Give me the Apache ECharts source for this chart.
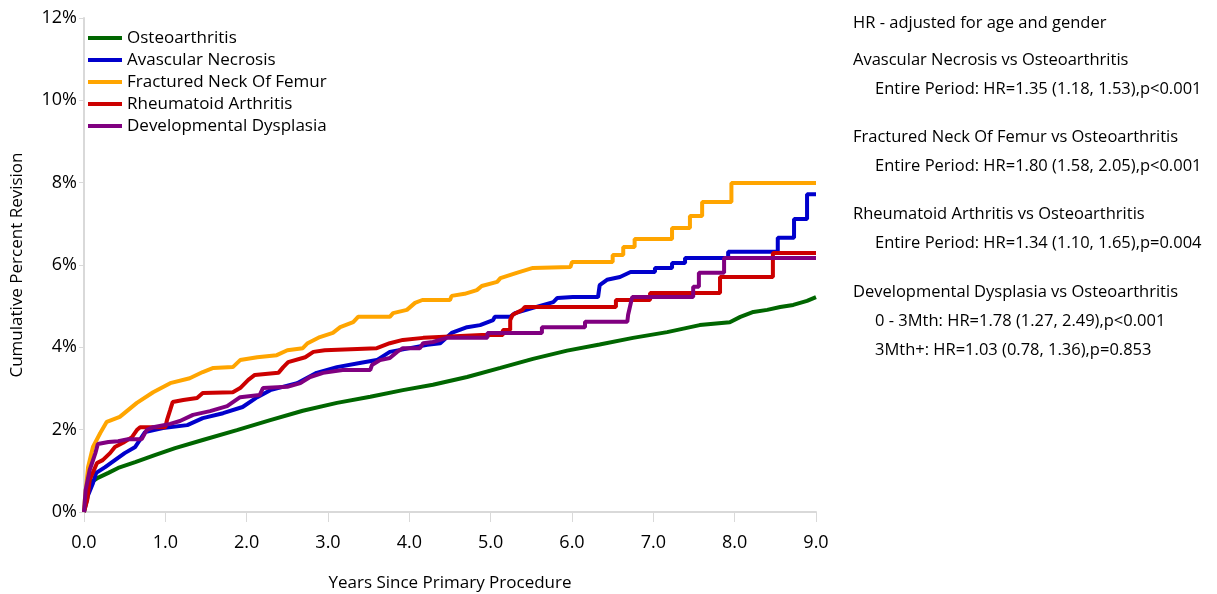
<!DOCTYPE html>
<html>
<head>
<meta charset="utf-8">
<script src="https://cdn.jsdelivr.net/npm/echarts@6/dist/echarts.min.js"></script>
<style>
  html, body { margin: 0; padding: 0; background: #fff; }
  #main { width: 1217px; height: 594px; }
</style>
</head>
<body>
<div id="main"></div>
<script>
// [years, cumulative percent revision]; repeated x marks a visible step
const osteoarthritis = [
  [0, 0], [0.02, 0.29], [0.05, 0.53], [0.07, 0.66], [0.11, 0.75], [0.17, 0.83], [0.30, 0.95],
  [0.42, 1.07], [0.63, 1.21], [0.87, 1.38], [1.12, 1.55], [1.46, 1.75], [1.88, 1.99], [2.29, 2.23],
  [2.69, 2.46], [3.11, 2.65], [3.52, 2.80], [3.92, 2.96], [4.29, 3.09], [4.71, 3.28], [5.12, 3.50],
  [5.52, 3.72], [5.94, 3.92], [6.34, 4.07], [6.75, 4.23], [7.17, 4.37], [7.57, 4.54], [7.94, 4.61],
  [8.07, 4.74], [8.23, 4.86], [8.40, 4.91], [8.56, 4.98], [8.72, 5.03], [8.89, 5.13], [9.0, 5.22]
];
const avascularNecrosis = [
  [0, 0], [0.05, 0.41], [0.11, 0.70], [0.15, 0.95], [0.26, 1.09], [0.38, 1.26], [0.50, 1.43],
  [0.63, 1.58], [0.75, 1.94], [0.97, 2.04], [1.27, 2.11], [1.46, 2.28], [1.71, 2.40], [1.95, 2.55],
  [2.13, 2.79], [2.29, 2.96], [2.62, 3.13], [2.86, 3.38], [3.11, 3.52], [3.39, 3.62], [3.60, 3.69],
  [3.76, 3.89], [4.22, 4.06], [4.38, 4.10], [4.52, 4.35], [4.71, 4.49], [4.87, 4.54], [5.03, 4.66],
  [5.05, 4.74], [5.24, 4.74], [5.30, 4.83], [5.52, 4.96], [5.77, 5.10], [5.82, 5.20], [6.01, 5.22],
  [6.32, 5.22], [6.34, 5.51], [6.43, 5.64], [6.59, 5.71], [6.72, 5.83], [7.02, 5.83], [7.02, 5.93],
  [7.23, 5.93], [7.23, 6.05], [7.39, 6.05], [7.39, 6.17], [7.92, 6.17], [7.92, 6.32], [8.53, 6.32],
  [8.53, 6.66], [8.73, 6.66], [8.73, 7.12], [8.89, 7.12], [8.89, 7.72], [9.0, 7.72]
];
const fracturedNeckOfFemur = [
  [0, 0], [0.01, 0.29], [0.05, 1.09], [0.11, 1.58], [0.20, 1.92], [0.28, 2.19], [0.44, 2.31],
  [0.65, 2.65], [0.85, 2.91], [1.06, 3.13], [1.30, 3.25], [1.46, 3.40], [1.59, 3.50], [1.83, 3.52],
  [1.92, 3.69], [2.13, 3.76], [2.37, 3.81], [2.50, 3.93], [2.69, 3.98], [2.75, 4.10], [2.90, 4.25],
  [3.06, 4.35], [3.15, 4.49], [3.31, 4.61], [3.37, 4.74], [3.76, 4.74], [3.80, 4.83], [3.97, 4.91],
  [4.07, 5.08], [4.16, 5.15], [4.50, 5.15], [4.52, 5.25], [4.68, 5.30], [4.83, 5.39], [4.89, 5.49],
  [5.08, 5.59], [5.12, 5.68], [5.32, 5.81], [5.52, 5.93], [5.98, 5.95], [6.00, 6.07], [6.50, 6.07],
  [6.50, 6.24], [6.63, 6.24], [6.63, 6.44], [6.77, 6.44], [6.77, 6.63], [7.23, 6.63], [7.23, 6.90],
  [7.45, 6.90], [7.45, 7.19], [7.60, 7.19], [7.60, 7.53], [7.96, 7.53], [7.96, 7.99], [9.0, 7.99]
];
const rheumatoidArthritis = [
  [0, 0], [0.04, 0.29], [0.07, 0.78], [0.16, 1.19], [0.23, 1.26], [0.32, 1.43], [0.38, 1.58],
  [0.48, 1.68], [0.59, 1.82], [0.65, 1.99], [0.69, 2.06], [1.00, 2.06], [1.02, 2.23], [1.06, 2.48],
  [1.09, 2.67], [1.22, 2.72], [1.39, 2.77], [1.46, 2.89], [1.83, 2.91], [1.92, 3.01], [2.02, 3.21],
  [2.10, 3.33], [2.39, 3.38], [2.45, 3.52], [2.51, 3.64], [2.72, 3.76], [2.82, 3.89], [2.96, 3.93],
  [3.60, 3.98], [3.76, 4.10], [3.92, 4.18], [4.17, 4.23], [4.89, 4.30], [5.15, 4.30], [5.15, 4.42],
  [5.24, 4.42], [5.24, 4.66], [5.27, 4.79], [5.39, 4.91], [5.42, 4.98], [6.54, 4.98], [6.54, 5.15],
  [6.96, 5.15], [6.96, 5.32], [7.82, 5.32], [7.82, 5.71], [8.47, 5.71], [8.47, 6.29], [9.0, 6.29]
];
const developmentalDysplasia = [
  [0, 0], [0.02, 0.53], [0.07, 1.02], [0.14, 1.43], [0.17, 1.65], [0.30, 1.70], [0.42, 1.72],
  [0.54, 1.77], [0.71, 1.77], [0.77, 1.99], [0.85, 2.06], [1.06, 2.14], [1.18, 2.21], [1.34, 2.36],
  [1.55, 2.45], [1.76, 2.57], [1.92, 2.79], [2.16, 2.84], [2.20, 3.01], [2.50, 3.04], [2.66, 3.13],
  [2.78, 3.28], [2.94, 3.38], [3.18, 3.45], [3.52, 3.45], [3.54, 3.57], [3.64, 3.69], [3.76, 3.74],
  [3.85, 3.89], [3.92, 3.98], [4.13, 3.98], [4.17, 4.10], [4.29, 4.13], [4.46, 4.23], [4.96, 4.23],
  [4.96, 4.35], [5.63, 4.35], [5.63, 4.49], [6.16, 4.49], [6.16, 4.62], [6.68, 4.62], [6.69, 4.79],
  [6.74, 5.22], [7.49, 5.22], [7.49, 5.47], [7.56, 5.47], [7.56, 5.81], [7.87, 5.81], [7.87, 6.17],
  [9.0, 6.17]
];

const seriesNames = ['Osteoarthritis', 'Avascular Necrosis', 'Fractured Neck Of Femur', 'Rheumatoid Arthritis', 'Developmental Dysplasia'];
const seriesData = [osteoarthritis, avascularNecrosis, fracturedNeckOfFemur, rheumatoidArthritis, developmentalDysplasia];
const seriesColors = ['#006600', '#0000cc', '#ffa500', '#cc0000', '#800080'];

const hrHeading = 'HR - adjusted for age and gender';
const hrGroups = [
  ['Avascular Necrosis vs Osteoarthritis', 'Entire Period: HR=1.35 (1.18, 1.53),p<0.001'],
  ['Fractured Neck Of Femur vs Osteoarthritis', 'Entire Period: HR=1.80 (1.58, 2.05),p<0.001'],
  ['Rheumatoid Arthritis vs Osteoarthritis', 'Entire Period: HR=1.34 (1.10, 1.65),p=0.004'],
  ['Developmental Dysplasia vs Osteoarthritis', '0 - 3Mth: HR=1.78 (1.27, 2.49),p<0.001', '3Mth+: HR=1.03 (0.78, 1.36),p=0.853']
];

const FONT = 'Open Sans';
const chart = echarts.init(document.getElementById('main'));

// right-hand annotation block
const noteFont = '16.5px "' + FONT + '"';
const notes = [];
notes.push({ type: 'text', x: 853, y: 23, style: { text: hrHeading, font: noteFont, fill: '#000', textVerticalAlign: 'middle' } });
const groupMids = [60, 137, 214, 292];
hrGroups.forEach((g, i) => {
  g.forEach((line, j) => {
    notes.push({
      type: 'text',
      x: j === 0 ? 853 : 875,
      y: groupMids[i] + j * 29,
      style: { text: line, font: noteFont, fill: '#000', textVerticalAlign: 'middle' }
    });
  });
});

chart.setOption({
  animation: false,
  textStyle: { fontFamily: FONT },
  grid: { left: 84, right: 401, top: 18, bottom: 82, outerBoundsMode: 'none' },
  legend: {
    orient: 'vertical',
    left: 88,
    top: 27,
    padding: 0,
    icon: 'rect',
    itemWidth: 34,
    itemHeight: 4,
    itemGap: 0,
    textStyle: { fontSize: 17, color: '#000', lineHeight: 22, fontFamily: FONT },
    data: seriesNames
  },
  xAxis: {
    type: 'value',
    min: 0, max: 9, interval: 1,
    name: 'Years Since Primary Procedure',
    nameLocation: 'middle',
    nameGap: 63,
    nameTextStyle: { fontSize: 17, color: '#000' },
    axisLine: { lineStyle: { color: '#d9d9d9', width: 2 } },
    axisTick: { show: true, length: 10, lineStyle: { color: '#d9d9d9', width: 1 } },
    axisLabel: { fontSize: 18, color: '#000', margin: 22, formatter: v => v.toFixed(1) },
    splitLine: { show: false }
  },
  yAxis: {
    type: 'value',
    min: 0, max: 12, interval: 2,
    name: 'Cumulative Percent Revision',
    nameLocation: 'middle',
    nameGap: 58,
    nameTextStyle: { fontSize: 17, color: '#000' },
    axisLine: { show: true, lineStyle: { color: '#d9d9d9', width: 2 } },
    axisTick: { show: true, length: 5, lineStyle: { color: '#d9d9d9' } },
    axisLabel: { fontSize: 18, color: '#000', margin: 7, formatter: v => v + '%' },
    splitLine: { show: false }
  },
  graphic: notes,
  series: seriesNames.map((name, i) => ({
    name: name,
    type: 'line',
    data: seriesData[i],
    showSymbol: false,
    symbol: 'none',
    color: seriesColors[i],
    lineStyle: { width: 4, color: seriesColors[i] },
    z: 2 + i
  }))
});
</script>
</body>
</html>
